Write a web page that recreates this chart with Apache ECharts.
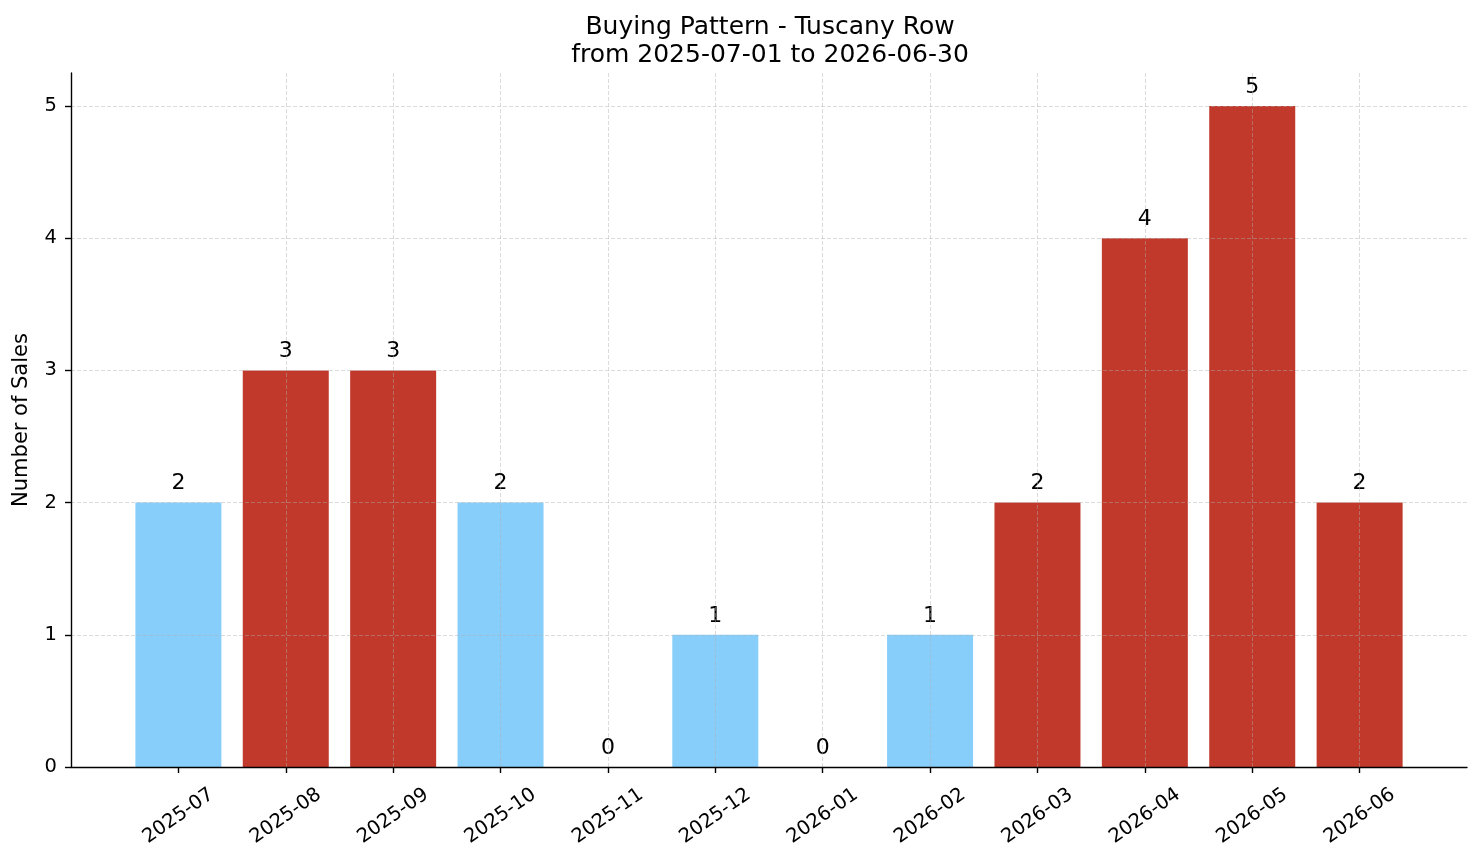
<!DOCTYPE html>
<html>
<head>
<meta charset="utf-8">
<script src="https://cdn.jsdelivr.net/npm/echarts@6/dist/echarts.min.js"></script>
<style>
  html, body { margin: 0; padding: 0; background: #fff; }
  #chart { width: 1481px; height: 863px; }
</style>
</head>
<body>
<div id="chart"></div>
<script>
const months = ['2025-07', '2025-08', '2025-09', '2025-10', '2025-11', '2025-12',
  '2026-01', '2026-02', '2026-03', '2026-04', '2026-05', '2026-06'];
const sales = [2, 3, 3, 2, 0, 1, 0, 1, 2, 4, 5, 2];
// months drawn in the darker colour
const highlighted = [false, true, true, false, false, false, false, false, true, true, true, true];
const yTicks = [0, 1, 2, 3, 4, 5];

const FONT = 'DejaVu Sans';
const BLUE = '#87CEFA';
const RED = '#C0392B';
const GRID = 'rgba(176,176,176,0.5)';

const chart = echarts.init(document.getElementById('chart'), null, { renderer: 'canvas' });

const xIdx = months.map((m, i) => i);

// split lines: x ticks run -1..12, y ticks 0..5 plus the 5.25 edge
const xGridColors = ['transparent'].concat(months.map(() => GRID)).concat(['transparent']);
const yGridColors = yTicks.map(() => GRID).concat(['transparent']);

const option = {
  backgroundColor: '#fff',
  animation: false,
  textStyle: { fontFamily: FONT },
  title: {
    text: 'Buying Pattern - Tuscany Row\nfrom 2025-07-01 to 2026-06-30',
    left: 765,
    textAlign: 'center',
    top: 8,
    textStyle: { fontFamily: FONT, fontSize: 25, fontWeight: 'normal', color: '#000', lineHeight: 28 }
  },
  grid: { left: 71, right: 14, top: 73, bottom: 96 },
  xAxis: {
    type: 'value',
    min: -1,
    max: 12,
    interval: 1,
    z: 3,
    axisLine: { show: true, onZero: false, lineStyle: { color: '#000', width: 1.4 } },
    axisTick: { show: true, length: 6, customValues: xIdx, lineStyle: { color: '#000', width: 1.4 } },
    axisLabel: {
      customValues: xIdx,
      formatter: v => months[Math.round(v)] || '',
      rotate: 35,
      align: 'center',
      verticalAlign: 'middle',
      margin: 49,
      fontFamily: FONT,
      fontSize: 19.5,
      color: '#000'
    },
    splitLine: { show: true, lineStyle: { color: xGridColors, width: 0.9, type: [4, 2] } }
  },
  yAxis: {
    type: 'value',
    min: 0,
    max: 5.25,
    interval: 1,
    z: 3,
    name: 'Number of Sales',
    nameLocation: 'middle',
    nameGap: 39,
    nameTextStyle: { fontFamily: FONT, fontSize: 21, color: '#000' },
    axisLine: { show: true, onZero: false, lineStyle: { color: '#000', width: 1.4 } },
    axisTick: { show: true, length: 6, customValues: yTicks, lineStyle: { color: '#000', width: 1.4 } },
    axisLabel: {
      customValues: yTicks,
      margin: 14,
      fontFamily: FONT,
      fontSize: 19.5,
      color: '#000'
    },
    splitLine: { show: true, lineStyle: { color: yGridColors, width: 0.9, type: [4, 2] } }
  },
  series: [{
    type: 'bar',
    barWidth: 86,
    data: sales.map((v, i) => ({
      value: [i, v],
      itemStyle: { color: highlighted[i] ? RED : BLUE }
    })),
    label: {
      show: true,
      position: 'top',
      distance: 8,
      formatter: p => String(p.value[1]),
      fontFamily: FONT,
      fontSize: 22,
      color: '#000'
    }
  }]
};

chart.setOption(option);
</script>
</body>
</html>
